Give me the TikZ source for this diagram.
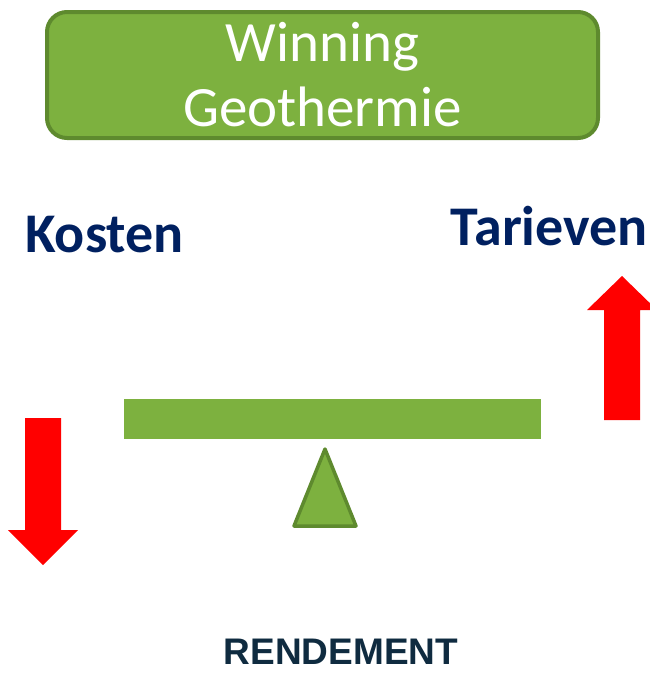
\documentclass[tikz,border=0pt]{standalone}
\usepackage{fontspec}
\setmainfont{Carlito}
\newfontfamily\arialfont{Liberation Sans}
\usepackage{xcolor}
\definecolor{groen}{HTML}{7DB13F}
\definecolor{donkergroen}{HTML}{5E8A2E}
\definecolor{navy}{HTML}{002060}
\definecolor{leisteen}{HTML}{0F2B40}
\tikzset{
  titelbox/.style={draw=donkergroen, line width=4pt, fill=groen, rounded corners=20pt,
    minimum width=551pt, minimum height=126pt, text=white, align=center,
    font=\fontsize{57}{65}\selectfont},
  kop/.style={text=navy, font=\bfseries\fontsize{56}{60}\selectfont, inner sep=0pt},
  pijl/.style={fill=red, draw=none}
}
\begin{document}
\begin{tikzpicture}[x=1pt,y=-1pt]
\useasboundingbox (0,0) rectangle (650,673);
%==================== Titel ==================
\node[titelbox] (titel) at (322.5,75) {Winning\\Geothermie};
%==================== Koppen ==================
\node[kop, anchor=base west] (kosten) at (25,252) {Kosten};
\node[kop, anchor=base east] (tarieven) at (648,245) {Tarieven};
%==================== Wip ==================
\node[fill=groen, minimum width=417pt, minimum height=40pt, inner sep=0pt] (balk) at (332.5,419) {};
\coordinate (top) at (325,449);
\coordinate (links) at (294,526);
\coordinate (rechts) at (356,526);
\draw[fill=groen, draw=donkergroen, line width=3.5pt, line join=round] (top) -- (links) -- (rechts) -- cycle;
%==================== Pijlen ==================
% omlaag (kosten)
\fill[pijl] (25,418) -- (61,418) -- (61,530) -- (78,530) -- (43,565) -- (8,530) -- (25,530) -- cycle;
% omhoog (tarieven)
\fill[pijl] (604,420) -- (640,420) -- (640,310) -- (657,310) -- (622,276) -- (587,310) -- (604,310) -- cycle;
%==================== Onderschrift ==================
\node[text=leisteen, font=\arialfont\bfseries\fontsize{37}{40}\selectfont, inner sep=0pt, anchor=base] (rendement) at (341,664) {RENDEMENT};
\end{tikzpicture}
\end{document}
